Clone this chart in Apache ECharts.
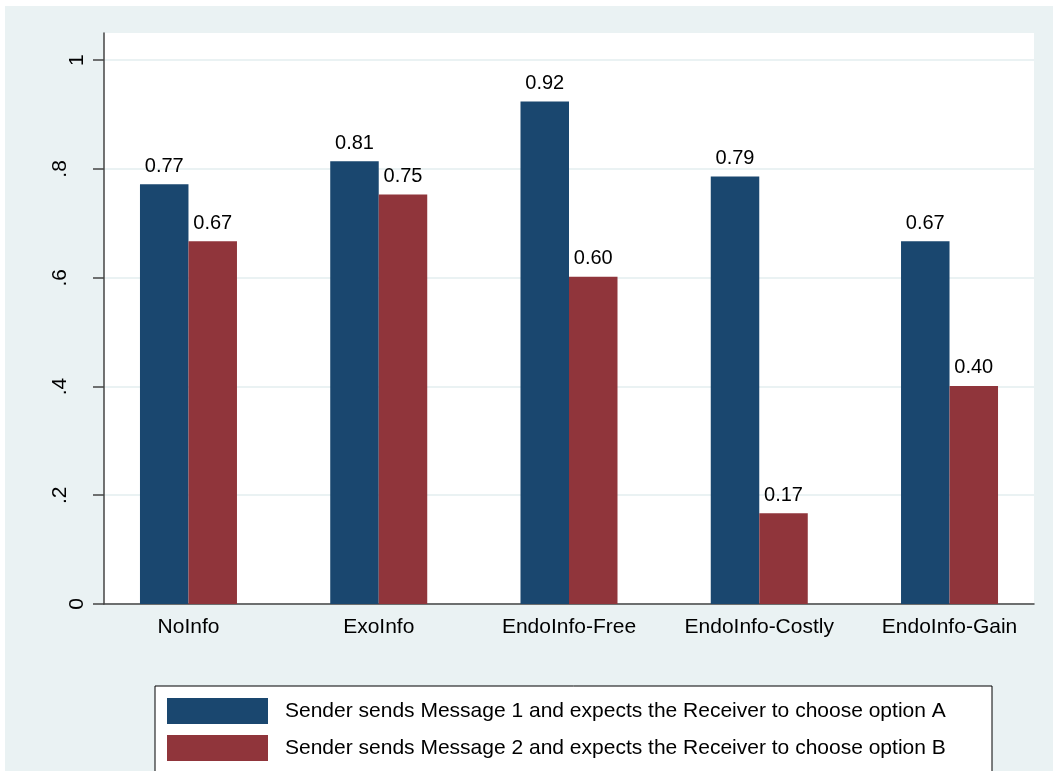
<!DOCTYPE html>
<html>
<head>
<meta charset="utf-8">
<script src="https://cdn.jsdelivr.net/npm/echarts@6/dist/echarts.min.js"></script>
<style>
  body { margin: 0; background: #fff; }
  #main { position: absolute; left: 5px; top: 6px; width: 1048px; height: 765px; }
</style>
</head>
<body>
<div id="main"></div>
<script>
  // 数据
  var categories = ['NoInfo', 'ExoInfo', 'EndoInfo-Free', 'EndoInfo-Costly', 'EndoInfo-Gain'];
  var seriesNames = [
    'Sender sends Message 1 and expects the Receiver to choose option A',
    'Sender sends Message 2 and expects the Receiver to choose option B'
  ];
  var message1 = [0.772, 0.814, 0.924, 0.786, 0.667];
  var message2 = [0.667, 0.753, 0.602, 0.167, 0.401];
  var yTickValues = [0, 0.2, 0.4, 0.6, 0.8, 1];
  var yTickLabels = ['0', '.2', '.4', '.6', '.8', '1'];

  var fontName = '"Liberation Sans", Arial, sans-serif';

  function toPairs(arr) {
    return arr.map(function (v, i) { return [i, v]; });
  }

  function barSeries(name, values, color) {
    return {
      name: name,
      type: 'bar',
      barWidth: 48.5,
      barGap: '0%',
      itemStyle: { color: color },
      label: {
        show: true,
        position: 'top',
        distance: 8,
        color: '#000',
        fontSize: 20,
        fontFamily: fontName,
        formatter: function (p) { return p.value[1].toFixed(2); }
      },
      data: toPairs(values)
    };
  }

  var chart = echarts.init(document.getElementById('main'));
  var option = {
    backgroundColor: '#EAF2F3',
    animation: false,
    textStyle: { fontFamily: fontName },
    graphic: [
      {
        type: 'rect',
        shape: { x: 150, y: 680, width: 837, height: 100 },
        style: { fill: '#fff', stroke: '#000', lineWidth: 1 },
        z: -1
      }
    ],
    grid: {
      left: 99,
      top: 27,
      right: 19,
      bottom: 167,
      show: true,
      backgroundColor: '#fff',
      borderWidth: 0
    },
    legend: {
      orient: 'vertical',
      left: 162,
      top: 692,
      padding: 0,
      itemWidth: 101,
      itemHeight: 26,
      itemGap: 11,
      icon: 'rect',
      textStyle: { fontSize: 21, color: '#000', padding: [0, 0, 0, 12], fontFamily: fontName },
      data: seriesNames
    },
    xAxis: {
      type: 'value',
      min: -0.444,
      max: 4.444,
      axisLine: { show: true, onZero: false, lineStyle: { color: '#444', width: 1.5 } },
      axisTick: { show: false },
      splitLine: { show: false },
      axisLabel: {
        customValues: [0, 1, 2, 3, 4],
        margin: 13,
        fontSize: 21,
        color: '#000',
        formatter: function (v) { return categories[Math.round(v)]; }
      }
    },
    yAxis: {
      type: 'value',
      min: 0,
      max: 1.05,
      interval: 0.2,
      axisLine: { show: true, onZero: false, lineStyle: { color: '#444', width: 1.5 } },
      axisTick: { show: true, length: 11, customValues: yTickValues, lineStyle: { color: '#444', width: 1.5 } },
      splitLine: { show: true, lineStyle: { color: '#EAF2F3', width: 2 } },
      axisLabel: {
        customValues: yTickValues,
        rotate: 90,
        margin: 16,
        fontSize: 21,
        color: '#000',
        formatter: function (v) {
          var idx = yTickValues.indexOf(v);
          var lab = idx >= 0 ? yTickLabels[idx] : '';
          return lab.charAt(0) === '.' ? '{d|' + lab + '}' : '{n|' + lab + '}';
        },
        rich: {
          n: { fontSize: 21, color: '#000' },
          d: { fontSize: 21, color: '#000', padding: [0, 0, 17, 0] }
        }
      }
    },
    series: [
      barSeries(seriesNames[0], message1, '#1A476F'),
      barSeries(seriesNames[1], message2, '#90353B')
    ]
  };
  chart.setOption(option);
</script>
</body>
</html>
